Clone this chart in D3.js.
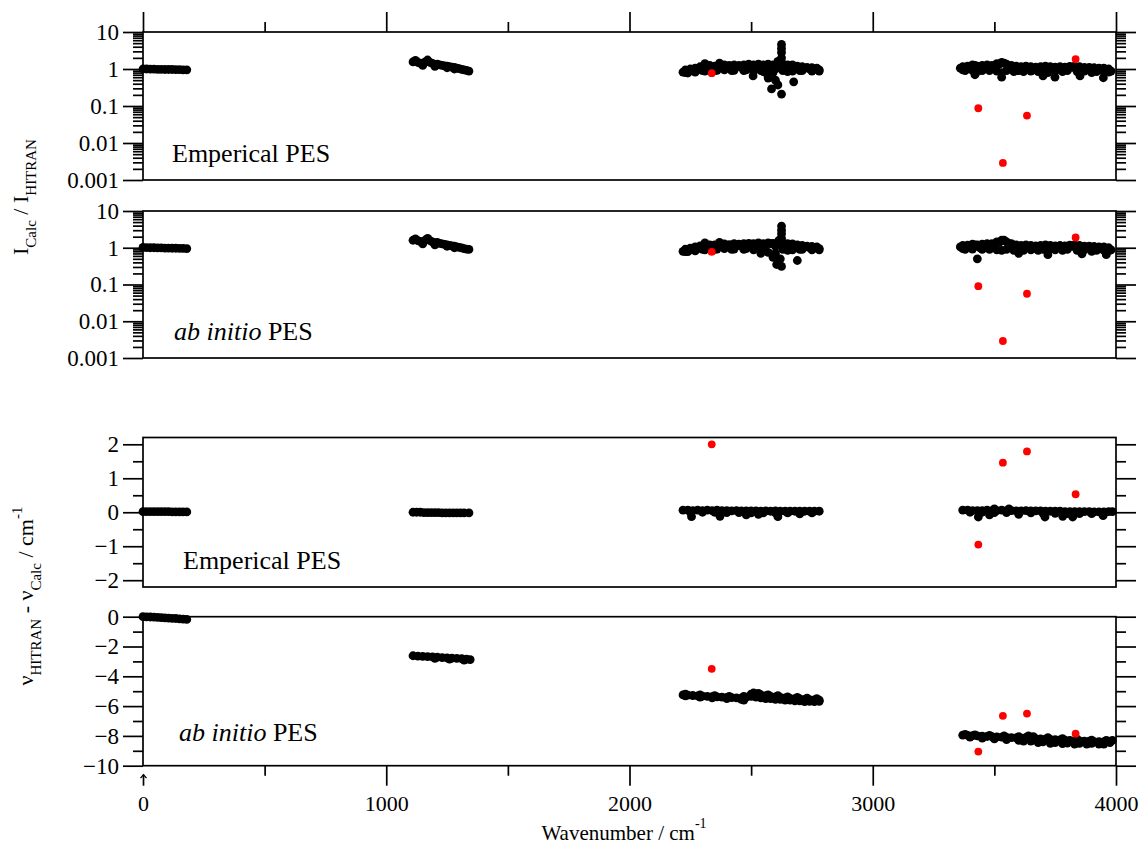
<!DOCTYPE html>
<html>
<head>
<meta charset="utf-8">
<script src="https://cdn.jsdelivr.net/npm/d3@7"></script>
<style>
  body { margin: 0; background: #fff; }
  svg { display: block; }
  text { font-family: "Liberation Serif", "Times New Roman", Times, serif; fill: #000; }
</style>
</head>
<body>
<svg id="chart" width="1143" height="852"></svg>
<script>
// ---- data: [wavenumber (cm^-1), value] ----
// intensity ratio, empirical PES
const ratioEmp = [
  [0,1.0],[15,1.0],[30,0.99],[45,0.99],[60,0.98],[75,0.98],[90,0.97],[105,0.97],[120,0.97],[135,0.96],[150,0.96],[165,0.95],[180,0.95],
  [1110,1.55],[1120,1.7],[1130,1.5],[1140,1.45],[1150,1.38],[1160,1.55],[1170,1.75],[1180,1.5],[1190,1.42],[1200,1.32],[1210,1.36],[1220,1.3],
  [1230,1.25],[1240,1.22],[1250,1.2],[1260,1.15],[1270,1.12],[1280,1.1],[1290,1.05],[1300,1.02],[1310,0.98],[1320,0.95],[1330,0.92],[1340,0.88],
  [1150,1.25],[1200,1.18],[1250,1.08],[1280,1.0],
  [2220,0.82],[2240,0.85],[2260,0.9],[2280,0.95],[2300,1.05],[2320,1.2],[2340,1.0],[2360,1.1],[2380,1.25],[2400,1.05],[2420,1.1],[2440,1.15],
  [2460,1.1],[2480,1.15],[2500,1.2],[2520,1.05],[2540,1.2],[2560,1.1],[2580,1.25],[2600,1.0],[2620,1.3],[2640,1.1],[2660,1.2],[2680,1.05],
  [2700,1.0],[2720,1.05],[2740,1.0],[2760,0.98],[2780,0.95],
  [2230,0.95],[2250,1.0],[2270,1.05],[2290,1.15],[2310,1.4],[2330,1.25],[2350,1.2],[2370,1.45],[2390,1.3],[2410,1.25],[2430,1.3],[2450,1.25],
  [2470,1.3],[2490,1.35],[2510,1.3],[2530,1.35],[2550,1.3],[2570,1.35],[2590,1.3],[2610,1.4],[2630,1.35],[2650,1.3],[2670,1.3],[2690,1.2],
  [2710,1.15],[2730,1.1],[2750,1.08],[2770,1.05],
  [2230,0.8],[2270,0.82],[2310,0.88],[2350,0.9],[2390,0.95],[2430,0.92],[2470,0.9],[2510,0.88],[2550,0.85],[2590,0.8],[2630,0.9],[2670,0.88],
  [2710,0.9],[2750,0.88],[2780,0.88],
  [2240,0.78],[2300,0.9],[2360,0.92],[2420,0.9],[2480,0.95],[2540,0.9],[2560,0.8],[2590,0.85],[2650,0.85],[2700,0.9],
  [2625,1.5],[2625,2.0],[2625,2.8],[2625,3.6],[2625,4.6],[2610,1.6],
  [2508,0.65],[2570,0.57],[2584,0.29],[2610,0.37],[2625,0.21],[2675,0.45],[2600,0.5],
  [3360,1.05],[3380,1.0],[3400,1.1],[3420,1.25],[3440,1.0],[3460,1.1],[3480,1.05],[3500,1.2],[3520,1.35],[3540,1.45],[3560,1.2],[3580,1.0],
  [3600,1.05],[3620,1.0],[3640,1.0],[3660,0.95],[3680,1.0],[3700,1.05],[3720,1.1],[3740,1.05],[3760,1.0],[3780,1.05],[3800,1.0],[3820,1.1],
  [3840,1.05],[3860,1.0],[3880,0.98],[3900,1.0],[3920,0.95],[3940,0.95],[3960,0.92],[3980,0.88],
  [3370,1.15],[3390,1.2],[3410,1.3],[3430,1.2],[3450,1.25],[3470,1.3],[3490,1.25],[3510,1.4],[3530,1.5],[3550,1.35],[3570,1.25],[3590,1.2],
  [3610,1.15],[3630,1.2],[3650,1.15],[3670,1.12],[3690,1.15],[3710,1.2],[3730,1.15],[3750,1.12],[3770,1.15],[3790,1.12],[3810,1.18],
  [3830,1.2],[3850,1.15],[3870,1.1],[3890,1.1],[3910,1.08],[3930,1.05],[3950,1.05],[3970,1.0],
  [3370,0.95],[3410,0.92],[3450,0.9],[3510,0.88],[3550,0.9],[3600,0.9],[3650,0.88],[3700,0.9],[3750,0.88],[3800,0.9],[3870,0.88],
  [3920,0.85],[3970,0.82],
  [3380,0.9],[3430,0.85],[3480,0.9],[3530,0.8],[3580,0.85],[3620,0.85],[3680,0.85],[3720,0.8],[3780,0.85],[3840,0.85],[3900,0.8],[3950,0.85],
  [3530,0.6],[3700,0.65],[3749,0.6],[3852,0.65],[3948,0.58],[3420,0.7]
];

// intensity ratio, ab initio PES
const ratioAb = [
  [0,1.02],[15,1.01],[30,1.0],[45,1.0],[60,0.99],[75,0.99],[90,0.98],[105,0.98],[120,0.97],[135,0.97],[150,0.96],[165,0.96],[180,0.95],
  [1110,1.6],[1120,1.75],[1130,1.55],[1140,1.5],[1150,1.4],[1160,1.6],[1170,1.8],[1180,1.55],[1190,1.45],[1200,1.35],[1210,1.4],[1220,1.32],
  [1230,1.28],[1240,1.24],[1250,1.2],[1260,1.16],[1270,1.13],[1280,1.1],[1290,1.06],[1300,1.02],[1310,0.99],[1320,0.95],[1330,0.92],[1340,0.9],
  [1150,1.28],[1200,1.2],[1250,1.1],[1280,1.0],
  [2220,0.8],[2240,0.85],[2260,0.9],[2280,0.95],[2300,1.05],[2320,1.15],[2340,1.0],[2360,1.1],[2380,1.2],[2400,1.05],[2420,1.1],[2440,1.15],
  [2460,1.1],[2480,1.15],[2500,1.25],[2520,1.1],[2540,1.2],[2560,1.15],[2580,1.3],[2600,1.1],[2620,1.4],[2640,1.15],[2660,1.2],[2680,1.05],
  [2700,1.0],[2720,1.05],[2740,1.0],[2760,0.98],[2780,0.95],
  [2230,0.92],[2250,0.98],[2270,1.05],[2290,1.12],[2310,1.35],[2330,1.2],[2350,1.2],[2370,1.4],[2390,1.28],[2410,1.22],[2430,1.3],[2450,1.25],
  [2470,1.3],[2490,1.32],[2510,1.3],[2530,1.35],[2550,1.3],[2570,1.35],[2590,1.32],[2610,1.45],[2630,1.35],[2650,1.3],[2670,1.28],[2690,1.2],
  [2710,1.15],[2730,1.1],[2750,1.08],[2770,1.05],
  [2230,0.78],[2270,0.82],[2310,0.88],[2350,0.9],[2390,0.95],[2430,0.92],[2470,0.9],[2510,0.88],[2550,0.85],[2630,0.9],[2670,0.88],
  [2710,0.9],[2750,0.88],[2780,0.88],
  [2240,0.78],[2300,0.9],[2360,0.92],[2420,0.9],[2480,0.95],[2540,0.9],[2570,0.75],[2600,0.7],[2650,0.85],[2700,0.9],
  [2625,1.8],[2625,2.4],[2625,3.0],[2625,3.9],[2615,1.6],
  [2605,0.35],[2620,0.5],[2625,0.31],[2590,0.55],[2690,0.45],[2540,0.7],
  [3360,1.05],[3380,1.0],[3400,1.1],[3420,1.2],[3440,1.0],[3460,1.1],[3480,1.05],[3500,1.25],[3520,1.4],[3540,1.6],[3560,1.3],[3580,1.05],
  [3600,1.05],[3620,1.0],[3640,1.05],[3660,0.95],[3680,1.0],[3700,1.05],[3720,1.1],[3740,1.05],[3760,1.0],[3780,1.05],[3800,1.0],[3820,1.1],
  [3840,1.05],[3860,1.0],[3880,0.98],[3900,1.0],[3920,0.95],[3940,0.95],[3960,0.92],[3980,0.88],
  [3370,1.15],[3390,1.18],[3410,1.25],[3430,1.2],[3450,1.25],[3470,1.3],[3490,1.3],[3510,1.45],[3530,1.6],[3550,1.45],[3570,1.3],[3590,1.2],
  [3610,1.15],[3630,1.2],[3650,1.15],[3670,1.12],[3690,1.15],[3710,1.2],[3730,1.15],[3750,1.12],[3770,1.15],[3790,1.12],[3810,1.18],
  [3830,1.2],[3850,1.15],[3870,1.1],[3890,1.1],[3910,1.08],[3930,1.05],[3950,1.05],[3970,1.0],
  [3370,0.95],[3410,0.92],[3450,0.9],[3510,0.88],[3550,0.9],[3600,0.9],[3650,0.88],[3700,0.9],[3750,0.88],[3800,0.9],[3870,0.88],
  [3920,0.85],[3970,0.82],
  [3380,0.9],[3480,0.9],[3530,0.85],[3580,0.85],[3620,0.85],[3680,0.85],[3720,0.8],[3780,0.85],[3840,0.85],[3900,0.8],[3950,0.85],
  [3430,0.5],[3720,0.65],[3860,0.68],[3960,0.65],[3600,0.7]
];

// line-position residual, empirical PES
const resEmp = [
  [0,0.02],[15,0.02],[30,0.02],[45,0.02],[60,0.02],[75,0.02],[90,0.02],[105,0.02],[120,0.01],[135,0.01],[150,0.01],[165,0.01],[180,0.01],
  [1110,0.0],[1125,0.0],[1140,0.0],[1155,-0.01],[1170,-0.01],[1185,-0.01],[1200,-0.01],[1215,-0.01],[1230,-0.02],[1245,-0.02],[1260,-0.02],
  [1275,-0.02],[1290,-0.02],[1305,-0.02],[1320,-0.02],[1340,-0.02],
  [2220,0.06],[2240,0.06],[2260,0.05],[2280,0.06],[2300,0.05],[2320,0.06],[2340,0.05],[2360,0.06],[2380,0.05],[2400,0.05],[2420,0.04],
  [2440,0.05],[2460,0.04],[2480,0.04],[2500,0.04],[2520,0.04],[2540,0.03],[2560,0.04],[2580,0.03],[2600,0.04],[2620,0.03],[2640,0.03],
  [2660,0.03],[2680,0.03],[2700,0.03],[2720,0.03],[2740,0.03],[2760,0.03],[2780,0.03],
  [2250,0.0],[2300,0.0],[2350,0.0],[2400,-0.01],[2450,-0.01],[2500,-0.02],[2550,-0.02],[2600,-0.02],[2650,-0.02],[2700,-0.02],[2750,-0.02],
  [2255,-0.13],[2372,-0.12],[2610,-0.13],[2480,-0.08],[2530,-0.06],[2700,-0.05],
  [3370,0.06],[3390,0.06],[3410,0.05],[3430,0.05],[3450,0.05],[3470,0.06],[3490,0.05],[3510,0.05],[3530,0.06],[3550,0.05],[3570,0.05],
  [3590,0.04],[3610,0.04],[3630,0.05],[3650,0.04],[3670,0.04],[3690,0.04],[3710,0.03],[3730,0.03],[3750,0.03],[3770,0.03],[3790,0.02],
  [3810,0.02],[3830,0.02],[3850,0.02],[3870,0.02],[3890,0.02],[3910,0.01],[3930,0.01],[3950,0.01],[3970,0.02],[3985,0.02],
  [3400,0.0],[3450,0.0],[3500,-0.01],[3550,-0.01],[3600,-0.02],[3650,-0.02],[3700,-0.03],[3750,-0.03],[3800,-0.04],[3850,-0.04],
  [3900,-0.04],[3950,-0.04],
  [3434,-0.14],[3708,-0.14],[3781,-0.12],[3822,-0.14],[3947,-0.1],[3480,-0.08],[3600,-0.06],[3560,0.1],[3500,0.1]
];

// line-position residual, ab initio PES
const resAb = [
  [0,0.0],[15,-0.01],[30,-0.02],[45,-0.03],[60,-0.05],[75,-0.06],[90,-0.08],[105,-0.09],[120,-0.11],[135,-0.12],[150,-0.14],[165,-0.16],[180,-0.18],
  [1110,-2.62],[1130,-2.64],[1150,-2.66],[1170,-2.68],[1190,-2.7],[1210,-2.72],[1230,-2.74],[1250,-2.76],[1270,-2.78],[1290,-2.8],
  [1310,-2.82],[1330,-2.85],[1345,-2.88],[1200,-2.8],[1260,-2.85],[1320,-2.92],
  [2220,-5.25],[2240,-5.27],[2260,-5.29],[2280,-5.31],[2300,-5.33],[2320,-5.35],[2340,-5.36],[2360,-5.38],[2380,-5.4],[2400,-5.42],
  [2420,-5.43],[2440,-5.45],[2460,-5.46],[2480,-5.4],[2500,-5.2],[2520,-5.18],[2540,-5.25],[2560,-5.3],[2580,-5.35],[2600,-5.38],
  [2620,-5.42],[2640,-5.45],[2660,-5.48],[2680,-5.5],[2700,-5.52],[2720,-5.55],[2740,-5.57],[2760,-5.59],[2780,-5.6],
  [2230,-5.2],[2290,-5.25],[2350,-5.3],[2410,-5.35],[2470,-5.35],[2510,-5.12],[2530,-5.15],[2570,-5.25],[2610,-5.3],[2650,-5.38],
  [2690,-5.42],[2730,-5.46],[2770,-5.5],
  [2230,-5.32],[2290,-5.4],[2470,-5.6],[2520,-5.4],[2560,-5.5],[2600,-5.55],[2640,-5.6],[2680,-5.65],[2720,-5.7],[2760,-5.7],[2780,-5.68],
  [2340,-5.45],[2400,-5.5],[2460,-5.55],[2500,-5.35],[2540,-5.45],[2580,-5.5],[2620,-5.55],[2660,-5.6],[2700,-5.65],[2740,-5.68],
  [3370,-7.95],[3390,-7.97],[3410,-7.99],[3430,-8.0],[3450,-8.02],[3470,-8.04],[3490,-8.05],[3510,-8.07],[3530,-8.08],[3550,-8.1],
  [3570,-8.12],[3590,-8.13],[3610,-8.15],[3630,-8.1],[3650,-8.15],[3670,-8.18],[3690,-8.2],[3710,-8.22],[3730,-8.24],[3750,-8.25],
  [3770,-8.27],[3790,-8.28],[3810,-8.3],[3830,-8.32],[3850,-8.33],[3870,-8.35],[3890,-8.36],[3910,-8.38],[3930,-8.38],[3950,-8.4],
  [3970,-8.35],[3985,-8.3],
  [3380,-7.9],[3420,-7.93],[3480,-7.97],[3540,-8.0],[3600,-8.05],[3660,-8.05],[3720,-8.12],[3780,-8.18],[3840,-8.22],[3900,-8.28],[3960,-8.3],
  [3400,-8.08],[3500,-8.2],[3620,-8.35],[3680,-8.45],[3730,-8.5],[3780,-8.52],[3830,-8.55],[3880,-8.55],[3930,-8.55],[3975,-8.45],
  [3450,-8.15],[3550,-8.25],[3600,-8.3],[3650,-8.35],[3700,-8.4],[3750,-8.45],[3800,-8.48],[3850,-8.5],[3900,-8.5],[3950,-8.55],[3640,-8.0]
];

// the five lines that stand apart (red)
const outlierWn       = [2338, 3434, 3535, 3634, 3834];
const outlierRatioEmp = [0.77, 0.087, 0.0029, 0.055, 1.85];
const outlierRatioAb  = [0.77, 0.09, 0.0029, 0.056, 1.9];
const outlierResEmp   = [2.0, -0.95, 1.46, 1.79, 0.53];
const outlierResAb    = [-3.5, -9.05, -6.65, -6.5, -7.85];

// tick values
const xMajor = [0, 1000, 2000, 3000, 4000];
const xMinor = [500, 1500, 2500, 3500];
const logMajor = [0.001, 0.01, 0.1, 1, 10];
const logLabels = ["0.001", "0.01", "0.1", "1", "10"];
const resEmpMajor = [-2, -1, 0, 1, 2];
const resEmpMinor = [-1.5, -0.5, 0.5, 1.5];
const resAbMajor = [-10, -8, -6, -4, -2, 0];
const resAbMinor = [-9, -7, -5, -3, -1];

// ---- layout ----
const svg = d3.select("#chart");
const X0 = 143, X1 = 1116;
const x = d3.scaleLinear([0, 4000], [X0, X1]);

const logMinor = [];
[0.001, 0.01, 0.1, 1].forEach(b => { for (let k = 2; k <= 9; k++) logMinor.push(b * k); });

const panels = [
  { y: d3.scaleLog([0.001, 10], [180, 32]), data: ratioEmp, red: outlierRatioEmp,
    major: logMajor, minor: logMinor, fmt: d => logLabels[logMajor.indexOf(d)] ?? "",
    label: [{t: "Emperical PES"}], lx: 172, ly: 162 },
  { y: d3.scaleLog([0.001, 10], [358, 211]), data: ratioAb, red: outlierRatioAb,
    major: logMajor, minor: logMinor, fmt: d => logLabels[logMajor.indexOf(d)] ?? "",
    label: [{t: "ab initio", i: true}, {t: " PES"}], lx: 174, ly: 340 },
  { y: d3.scaleLinear([-2.2, 2.2], [587, 437.5]), data: resEmp, red: outlierResEmp,
    major: resEmpMajor, minor: resEmpMinor, fmt: d3.format("d"),
    label: [{t: "Emperical PES"}], lx: 183, ly: 569 },
  { y: d3.scaleLinear([-10, 0], [765.7, 616.7]), data: resAb, red: outlierResAb,
    major: resAbMajor, minor: resAbMinor, fmt: d3.format("d"),
    label: [{t: "ab initio", i: true}, {t: " PES"}], lx: 179, ly: 741 }
];

const STROKE = 1.7;

function styleAxis(g, size) {
  g.attr("font-family", null).attr("font-size", null);
  g.select(".domain").remove();
  g.selectAll(".tick line").attr("stroke", "#000").attr("stroke-width", STROKE);
  g.selectAll(".tick text").style("font-size", (size || 21) + "px")
    .style("font-family", "'Liberation Serif', 'Times New Roman', serif").attr("fill", "#000");
}

panels.forEach(p => {
  const [yb, yt] = p.y.range();
  // left axis: labelled majors + short minors
  svg.append("g").attr("transform", `translate(${X0},0)`)
    .call(d3.axisLeft(p.y).tickValues(p.major).tickSize(20).tickPadding(4).tickFormat(p.fmt)).call(styleAxis, 23);
  svg.append("g").attr("transform", `translate(${X0},0)`)
    .call(d3.axisLeft(p.y).tickValues(p.minor).tickSize(10).tickFormat("")).call(styleAxis);
  // right axis: ticks only
  svg.append("g").attr("transform", `translate(${X1},0)`)
    .call(d3.axisRight(p.y).tickValues(p.major).tickSize(20).tickFormat("")).call(styleAxis);
  svg.append("g").attr("transform", `translate(${X1},0)`)
    .call(d3.axisRight(p.y).tickValues(p.minor).tickSize(10).tickFormat("")).call(styleAxis);

  // frame
  svg.append("rect").attr("x", X0).attr("y", yt).attr("width", X1 - X0).attr("height", yb - yt)
    .attr("fill", "none").attr("stroke", "#000").attr("stroke-width", STROKE);

  // points
  svg.append("g").selectAll("circle").data(p.data).join("circle")
    .attr("cx", d => x(d[0])).attr("cy", d => p.y(d[1])).attr("r", 4.4).attr("fill", "#000");
  svg.append("g").selectAll("circle").data(outlierWn.map((w, i) => [w, p.red[i]])).join("circle")
    .attr("cx", d => x(d[0])).attr("cy", d => p.y(d[1])).attr("r", 3.9).attr("fill", "#ff0000");

  // panel caption
  const t = svg.append("text").attr("x", p.lx).attr("y", p.ly).attr("font-size", 26);
  p.label.forEach(s => t.append("tspan").attr("font-style", s.i ? "italic" : null).text(s.t));
});

// top axis of the first panel (ticks only)
svg.append("g").attr("transform", "translate(0,32)")
  .call(d3.axisTop(x).tickValues(xMajor).tickSize(20).tickFormat("")).call(styleAxis);
svg.append("g").attr("transform", "translate(0,32)")
  .call(d3.axisTop(x).tickValues(xMinor).tickSize(10).tickFormat("")).call(styleAxis);

// bottom axis of the last panel
const bottom = svg.append("g").attr("transform", "translate(0,765.7)")
  .call(d3.axisBottom(x).tickValues(xMajor).tickSize(20).tickPadding(10).tickFormat(d3.format("d"))).call(styleAxis, 22);
svg.append("g").attr("transform", "translate(0,765.7)")
  .call(d3.axisBottom(x).tickValues(xMinor).tickSize(10).tickFormat("")).call(styleAxis);
// the tick at zero carries a small caret
bottom.selectAll(".tick").filter(d => d === 0).each(function () {
  const tk = d3.select(this);
  tk.select("line").attr("y1", 9);
  tk.append("path").attr("d", "M-3,12.5L0,9L3,12.5").attr("fill", "none")
    .attr("stroke", "#000").attr("stroke-width", 1.3);
});

// x-axis title
const xt = svg.append("text").attr("x", 624).attr("y", 840).attr("text-anchor", "middle").attr("font-size", 21);
xt.append("tspan").text("Wavenumber / cm");
xt.append("tspan").attr("font-size", 14).attr("dy", -12).text("-1");

// y-axis titles (rotated)
function yTitle(cx, cy, parts) {
  const t = svg.append("text").attr("transform", `translate(${cx},${cy}) rotate(-90)`)
    .attr("text-anchor", "middle").attr("font-size", 22);
  let shift = 0;
  parts.forEach(([s, kind]) => {
    const target = kind === "sub" ? 8 : kind === "sup" ? -11 : 0;
    t.append("tspan").attr("dy", target - shift)
      .attr("font-size", kind ? 15 : 22).text(s);
    shift = target;
  });
}
yTitle(28, 197, [["I"], ["Calc", "sub"], [" / I"], ["HITRAN", "sub"]]);
yTitle(33, 596, [["ν"], ["HITRAN", "sub"], [" - ν"], ["Calc", "sub"], [" / cm"], ["-1", "sup"]]);
</script>
</body>
</html>
